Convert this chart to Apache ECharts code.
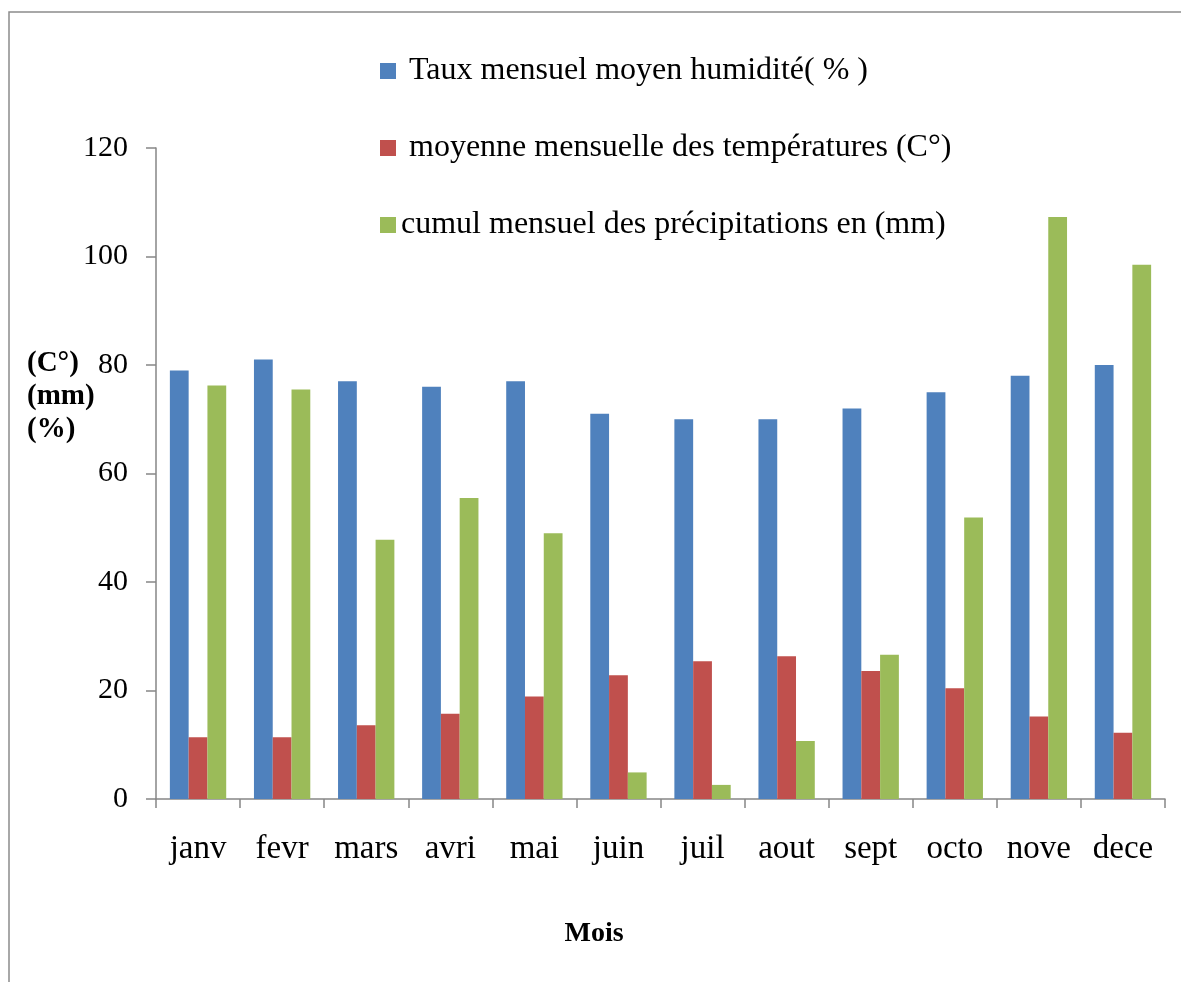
<!DOCTYPE html>
<html>
<head>
<meta charset="utf-8">
<script src="https://cdn.jsdelivr.net/npm/echarts@6/dist/echarts.min.js"></script>
<style>
  html, body { margin: 0; padding: 0; background: #fff; }
  #chart { width: 1181px; height: 982px; }
</style>
</head>
<body>
<div id="chart"></div>
<script>
// mois
const months = ['janv', 'fevr', 'mars', 'avri', 'mai', 'juin', 'juil', 'aout', 'sept', 'octo', 'nove', 'dece']
// valeurs
const humidite = [79, 81, 77, 76, 77, 71, 70, 70, 72, 75, 78, 80]
const temperature = [11.4, 11.4, 13.6, 15.7, 18.9, 22.8, 25.4, 26.3, 23.6, 20.4, 15.2, 12.2]
const precipitations = [76.2, 75.5, 47.8, 55.5, 49.0, 4.9, 2.6, 10.7, 26.6, 51.9, 107.3, 98.5]
const yTicks = [0, 20, 40, 60, 80, 100, 120]

const serif = '"Liberation Serif", "DejaVu Serif", serif'
const axisGray = '#868686'

const option = {
  animation: false,
  backgroundColor: '#fff',
  textStyle: { fontFamily: serif, color: '#000' },
  graphic: [
    {
      // cadre du graphique (coupé à droite et en bas)
      type: 'rect',
      shape: { x: 9, y: 12, width: 1200, height: 1000 },
      style: { fill: 'none', stroke: '#8c8c8c', lineWidth: 1.5 },
      silent: true
    },
    {
      type: 'text',
      left: 27,
      top: 347,
      style: {
        text: '(C°)\n(mm)\n(%)',
        font: 'bold 29px ' + serif,
        lineHeight: 33,
        fill: '#000'
      }
    },
    {
      type: 'text',
      x: 594,
      y: 934,
      style: {
        text: 'Mois',
        font: 'bold 28px ' + serif,
        align: 'center',
        verticalAlign: 'middle',
        fill: '#000'
      }
    }
  ],
  legend: {
    orient: 'vertical',
    left: 375,
    top: 50,
    icon: 'rect',
    itemWidth: 16,
    itemHeight: 16,
    itemGap: 45,
    selectedMode: false,
    formatter: function (name) {
      return name.indexOf('cumul') === 0 ? name : ' ' + name
    },
    textStyle: { fontFamily: serif, fontSize: 32, color: '#000', lineHeight: 32 }
  },
  grid: {
    left: 156,
    right: 16,
    top: 148,
    bottom: 183
  },
  xAxis: {
    type: 'category',
    data: months,
    axisLine: { lineStyle: { color: axisGray, width: 1.5 } },
    axisTick: { show: true, length: 9, alignWithLabel: false, lineStyle: { color: axisGray, width: 1.5 } },
    axisLabel: { fontFamily: serif, fontSize: 33, color: '#000', margin: 34 }
  },
  yAxis: {
    type: 'value',
    min: yTicks[0],
    max: yTicks[yTicks.length - 1],
    interval: yTicks[1] - yTicks[0],
    splitLine: { show: false },
    axisLine: { show: true, lineStyle: { color: axisGray, width: 1.5 } },
    axisTick: { show: true, length: 10, lineStyle: { color: axisGray, width: 1.5 } },
    axisLabel: { fontFamily: serif, fontSize: 30, color: '#000', margin: 28 }
  },
  series: [
    {
      name: 'Taux mensuel moyen humidité( % )',
      type: 'bar',
      data: humidite,
      barGap: '0%',
      barCategoryGap: '33%',
      itemStyle: { color: '#4F81BD' }
    },
    {
      name: 'moyenne mensuelle des températures (C°)',
      type: 'bar',
      data: temperature,
      itemStyle: { color: '#C0504D' }
    },
    {
      name: 'cumul mensuel des précipitations en (mm)',
      type: 'bar',
      data: precipitations,
      itemStyle: { color: '#9BBB59' }
    }
  ]
}

const chart = echarts.init(document.getElementById('chart'), null, { renderer: 'canvas' })
option && chart.setOption(option, true)
</script>
</body>
</html>
